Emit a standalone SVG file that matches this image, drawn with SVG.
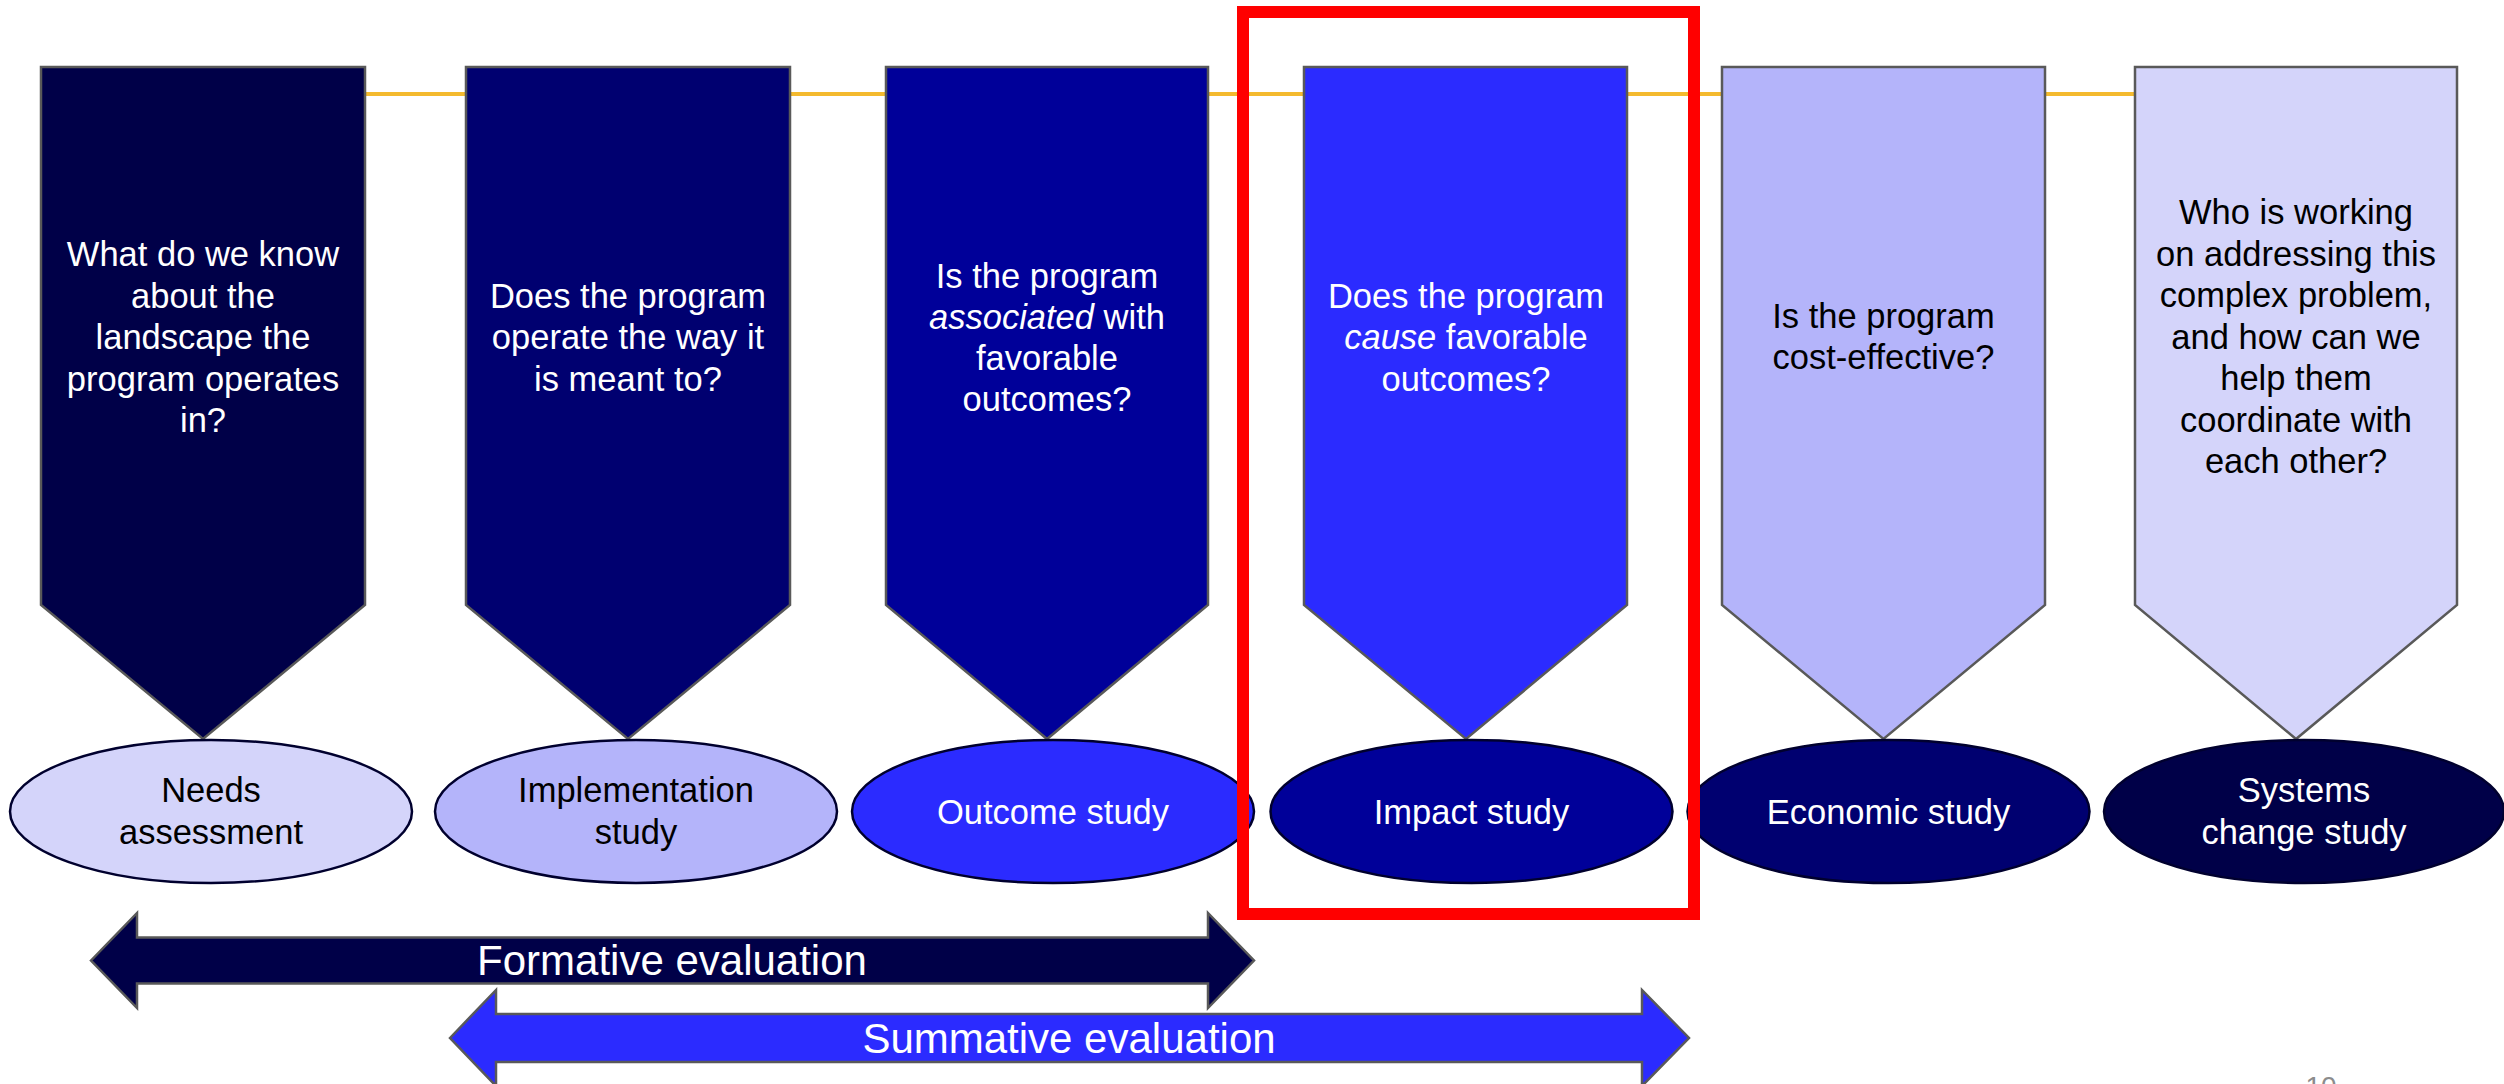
<svg xmlns="http://www.w3.org/2000/svg" width="2504" height="1084" viewBox="0 0 2504 1084">
  <style>
    text { font-family: "Liberation Sans", Arial, sans-serif; text-anchor: middle; }
    .q { font-size: 34.5px; }
    .lbl { font-size: 34.5px; }
    .band { font-size: 42px; fill: #ffffff; }
    .w { fill: #ffffff; }
    .k { fill: #000000; }
    .box { stroke: #595959; stroke-width: 2.5; stroke-linejoin: miter; }
    .oval { stroke: #00002e; stroke-width: 2.5; }
    .arrow { stroke: #595959; stroke-width: 2.5; }
    .c1 { fill: #000048; }
    .c2 { fill: #000070; }
    .c3 { fill: #000099; }
    .c4 { fill: #2b2bff; }
    .c5 { fill: #b4b4fa; }
    .c6 { fill: #d4d4fa; }
  </style>
  <rect x="0" y="0" width="2504" height="1084" fill="#ffffff"/>

  <!-- timeline running behind the question banners -->
  <g id="connectors">
    <line x1="200" y1="94" x2="2300" y2="94" stroke="#f4ba2e" stroke-width="4"/>
  </g>

  <!-- question banners -->
  <g id="q-needs">
    <polygon class="box c1" points="41,67 365,67 365,605 203,739 41,605"/>
    <text class="q w"><tspan x="203" y="266">What do we know</tspan><tspan x="203" y="307.5">about the</tspan><tspan x="203" y="349">landscape the</tspan><tspan x="203" y="390.5">program operates</tspan><tspan x="203" y="432">in?</tspan></text>
  </g>
  <g id="q-implementation">
    <polygon class="box c2" points="466,67 790,67 790,605 628,739 466,605"/>
    <text class="q w"><tspan x="628" y="307.5">Does the program</tspan><tspan x="628" y="349">operate the way it</tspan><tspan x="628" y="390.5">is meant to?</tspan></text>
  </g>
  <g id="q-outcome">
    <polygon class="box c3" points="886,67 1208,67 1208,605 1047,739 886,605"/>
    <text class="q w"><tspan x="1047" y="287.5">Is the program</tspan><tspan x="1047" y="328.5"><tspan font-style="italic">associated</tspan> with</tspan><tspan x="1047" y="370">favorable</tspan><tspan x="1047" y="411">outcomes?</tspan></text>
  </g>
  <g id="q-impact">
    <polygon class="box c4" points="1304,67 1627,67 1627,605 1466,739 1304,605"/>
    <text class="q w"><tspan x="1466" y="307.5">Does the program</tspan><tspan x="1466" y="349"><tspan font-style="italic">cause</tspan> favorable</tspan><tspan x="1466" y="390.5">outcomes?</tspan></text>
  </g>
  <g id="q-economic">
    <polygon class="box c5" points="1722,67 2045,67 2045,605 1883.5,739 1722,605"/>
    <text class="q k"><tspan x="1883.5" y="328">Is the program</tspan><tspan x="1883.5" y="369">cost-effective?</tspan></text>
  </g>
  <g id="q-systems">
    <polygon class="box c6" points="2135,67 2457,67 2457,605 2296,739 2135,605"/>
    <text class="q k"><tspan x="2296" y="224">Who is working</tspan><tspan x="2296" y="265.5">on addressing this</tspan><tspan x="2296" y="307">complex problem,</tspan><tspan x="2296" y="348.5">and how can we</tspan><tspan x="2296" y="390">help them</tspan><tspan x="2296" y="431.5">coordinate with</tspan><tspan x="2296" y="473">each other?</tspan></text>
  </g>

  <!-- study types -->
  <g id="s-needs">
    <ellipse class="oval c6" cx="211" cy="811.5" rx="201" ry="71.5"/>
    <text class="lbl k"><tspan x="211" y="802">Needs</tspan><tspan x="211" y="843.5">assessment</tspan></text>
  </g>
  <g id="s-implementation">
    <ellipse class="oval c5" cx="636" cy="811.5" rx="201" ry="71.5"/>
    <text class="lbl k"><tspan x="636" y="802">Implementation</tspan><tspan x="636" y="843.5">study</tspan></text>
  </g>
  <g id="s-outcome">
    <ellipse class="oval c4" cx="1053" cy="811.5" rx="201" ry="71.5"/>
    <text class="lbl w" x="1053" y="823.5">Outcome study</text>
  </g>
  <g id="s-impact">
    <ellipse class="oval c3" cx="1471.5" cy="811.5" rx="201" ry="71.5"/>
    <text class="lbl w" x="1471.5" y="823.5">Impact study</text>
  </g>
  <g id="s-economic">
    <ellipse class="oval c2" cx="1888.5" cy="811.5" rx="201" ry="71.5"/>
    <text class="lbl w" x="1888.5" y="823.5">Economic study</text>
  </g>
  <g id="s-systems">
    <ellipse class="oval c1" cx="2304" cy="811.5" rx="200" ry="71.5"/>
    <text class="lbl w"><tspan x="2304" y="802">Systems</tspan><tspan x="2304" y="843.5">change study</tspan></text>
  </g>

  <!-- evaluation spans -->
  <g id="formative">
    <polygon class="arrow c1" points="91,960.5 137,913 137,937.5 1208,937.5 1208,913 1254,960.5 1208,1008 1208,983.5 137,983.5 137,1008"/>
    <text class="band" x="672" y="975">Formative evaluation</text>
  </g>
  <g id="summative">
    <polygon class="arrow c4" points="450,1038 496,990 496,1014 1642,1014 1642,990 1689,1038 1642,1086 1642,1062 496,1062 496,1086"/>
    <text class="band" x="1069" y="1053">Summative evaluation</text>
  </g>

  <!-- highlight frame -->
  <g id="highlight">
    <rect x="1243" y="12" width="451" height="902" fill="none" stroke="#ff0000" stroke-width="12"/>
  </g>

  <!-- slide number -->
  <text x="2321" y="1096" font-size="28" fill="#8c8c8c">10</text>
</svg>
